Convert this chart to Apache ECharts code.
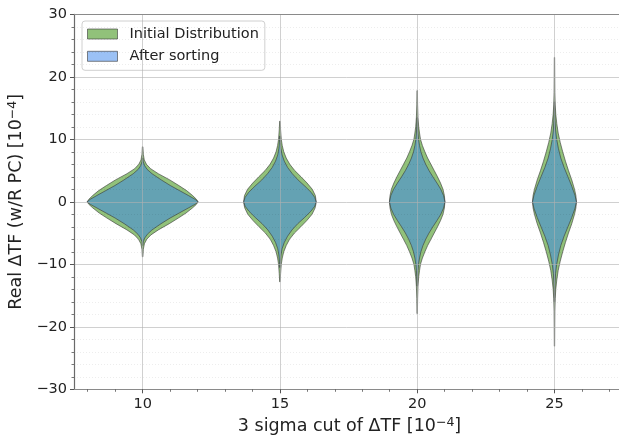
<!DOCTYPE html>
<html>
<head>
<meta charset="utf-8">
<script src="https://cdn.jsdelivr.net/npm/echarts@6/dist/echarts.min.js"></script>
<style>
  html, body { margin: 0; padding: 0; background: #ffffff; }
  #main { width: 619px; height: 435px; }
</style>
</head>
<body>
<div id="main"></div>
<script>
// Cut levels on the x axis (units of 1e-4)
const categories = [10, 15, 20, 25];
const xMinorTicks = [8, 9, 11, 12, 13, 14, 16, 17, 18, 19, 21, 22, 23, 24, 26, 27];
const seriesNames = ['Initial Distribution', 'After sorting'];

// Violin outlines: [value, half-width] pairs, top to bottom
const initial10 = [[8.8,0.01],[7.6,0.025],[6.7,0.06],[6.0,0.14],[5.3,0.29],[4.5,0.57],[3.5,0.99],[2.6,1.32],[1.8,1.60],[1.0,1.82],[0.4,1.96],[0,2.02],[-0.4,1.96],[-1.0,1.81],[-1.8,1.58],[-2.6,1.30],[-3.5,0.97],[-4.5,0.57],[-5.3,0.30],[-6.0,0.15],[-6.7,0.065],[-7.6,0.025],[-8.8,0.01]];
const sorted10 = [[7.0,0.008],[6.4,0.025],[5.8,0.07],[5.2,0.16],[4.5,0.34],[3.5,0.68],[2.6,1.01],[1.8,1.34],[1.0,1.67],[0.4,1.91],[0,2.02],[-0.4,1.91],[-1.0,1.66],[-1.8,1.33],[-2.6,1.00],[-3.5,0.67],[-4.5,0.34],[-5.2,0.17],[-5.8,0.075],[-6.4,0.025],[-7.0,0.008]];

const initial15 = [[12.9,0.008],[11.5,0.025],[10.0,0.05],[9.0,0.085],[8.0,0.14],[7.0,0.23],[6.0,0.36],[5.0,0.54],[4.0,0.77],[3.0,0.99],[2.0,1.18],[1.0,1.29],[0.4,1.31],[0,1.32],[-0.4,1.31],[-1.0,1.28],[-2.0,1.17],[-3.0,0.98],[-4.0,0.76],[-5.0,0.53],[-6.0,0.35],[-7.0,0.23],[-8.0,0.14],[-9.0,0.085],[-10.0,0.05],[-11.5,0.025],[-12.8,0.008]];
const sorted15 = [[10.5,0.008],[9.5,0.018],[8.5,0.04],[7.5,0.08],[6.5,0.16],[5.5,0.28],[4.5,0.45],[3.5,0.66],[2.5,0.91],[1.5,1.14],[0.7,1.27],[0,1.32],[-0.7,1.27],[-1.5,1.13],[-2.5,0.90],[-3.5,0.65],[-4.5,0.44],[-5.5,0.28],[-6.5,0.16],[-7.5,0.08],[-8.5,0.04],[-9.5,0.018],[-10.5,0.008]];

const initial20 = [[17.8,0.008],[15.5,0.015],[13.5,0.03],[12.0,0.055],[11.0,0.085],[10.0,0.12],[9.0,0.19],[8.0,0.28],[7.0,0.38],[6.0,0.50],[5.0,0.62],[4.0,0.74],[3.0,0.85],[2.0,0.94],[1.0,0.99],[0,1.01],[-1.0,0.99],[-2.0,0.94],[-3.0,0.85],[-4.0,0.74],[-5.0,0.62],[-6.0,0.50],[-7.0,0.38],[-8.0,0.28],[-9.0,0.19],[-10.0,0.12],[-11.0,0.085],[-12.0,0.055],[-13.5,0.03],[-15.5,0.015],[-17.9,0.008]];
const sorted20 = [[13.5,0.006],[12.0,0.018],[11.0,0.03],[10.0,0.05],[9.0,0.085],[8.0,0.135],[7.0,0.21],[6.0,0.31],[5.0,0.43],[4.0,0.57],[3.0,0.72],[2.0,0.86],[1.0,0.96],[0,1.01],[-1.0,0.96],[-2.0,0.86],[-3.0,0.72],[-4.0,0.57],[-5.0,0.43],[-6.0,0.31],[-7.0,0.21],[-8.0,0.135],[-9.0,0.085],[-10.0,0.05],[-11.0,0.03],[-12.0,0.018],[-13.5,0.006]];

const initial25 = [[23.1,0.006],[20.0,0.01],[17.5,0.015],[15.5,0.027],[14.0,0.048],[12.5,0.085],[11.0,0.135],[9.5,0.21],[8.0,0.30],[6.5,0.40],[5.0,0.51],[3.5,0.63],[2.0,0.73],[1.0,0.78],[0,0.80],[-1.0,0.78],[-2.0,0.73],[-3.5,0.63],[-5.0,0.51],[-6.5,0.40],[-8.0,0.30],[-9.5,0.21],[-11.0,0.135],[-12.5,0.085],[-14.0,0.048],[-15.5,0.027],[-17.5,0.015],[-20.0,0.01],[-23.1,0.006]];
const sorted25 = [[16.0,0.005],[14.5,0.011],[13.0,0.022],[11.5,0.04],[10.0,0.08],[8.5,0.145],[7.0,0.23],[5.5,0.35],[4.0,0.49],[2.5,0.63],[1.0,0.75],[0,0.80],[-1.0,0.75],[-2.5,0.63],[-4.0,0.49],[-5.5,0.35],[-7.0,0.23],[-8.5,0.145],[-10.0,0.08],[-11.5,0.04],[-13.0,0.022],[-14.5,0.011],[-16.0,0.005]];

const initialProfiles = [initial10, initial15, initial20, initial25];
const sortedProfiles = [sorted10, sorted15, sorted20, sorted25];

// Visible x range: the frame is cut at the right edge of the canvas
const xMin = 7.5;
const xMax = 27.35;

const FONT = 'DejaVu Sans';
const greenFill = 'rgb(145,193,122)';
const blueFill = 'rgba(55,132,236,0.5)';
const edge = 'rgba(55,55,55,0.6)';
const gridColor = 'rgba(176,176,176,0.6)';
const spineColor = '#8a8a8a';

function violinSeries(name, profiles, fill, z) {
  return {
    type: 'custom',
    name: name,
    z: z,
    coordinateSystem: 'cartesian2d',
    xAxisIndex: 0,
    yAxisIndex: 0,
    itemStyle: { color: fill, borderColor: edge, borderWidth: 1 },
    data: categories.map(function (c) { return [c, 0]; }),
    encode: { x: 0, y: 1 },
    renderItem: function (params, api) {
      const c = api.value(0);
      const prof = profiles[params.dataIndex];
      const right = prof.map(function (p) { return api.coord([c + p[1], p[0]]); });
      const left = prof.slice().reverse().map(function (p) { return api.coord([c - p[1], p[0]]); });
      return {
        type: 'polygon',
        shape: { points: right.concat(left) },
        style: { fill: fill, stroke: edge, lineWidth: 1, lineJoin: 'round' }
      };
    }
  };
}

const minus = function (v) { return String(v).replace('-', '\u2212'); };

const chart = echarts.init(document.getElementById('main'), null, { renderer: 'canvas' });
chart.setOption({
  animation: false,
  backgroundColor: '#ffffff',
  textStyle: { fontFamily: FONT },
  grid: {
    left: 74, right: 0, top: 14.3, bottom: 45.7,
    containLabel: false, outerBoundsMode: 'none',
    show: false
  },
  legend: {
    orient: 'vertical',
    left: 82, top: 21,
    icon: 'rect',
    itemWidth: 30, itemHeight: 10, itemGap: 6.3,
    padding: [5, 6, 6, 5],
    borderColor: '#d0d0d0', borderWidth: 1, borderRadius: 3,
    backgroundColor: 'rgba(255,255,255,0.8)',
    textStyle: { fontFamily: FONT, fontSize: 14.5, color: '#222', lineHeight: 16, padding: [0, 0, 0, 7] },
    data: [
      { name: seriesNames[0], itemStyle: { color: greenFill, borderColor: edge, borderWidth: 1 } },
      { name: seriesNames[1], itemStyle: { color: blueFill, borderColor: edge, borderWidth: 1 } }
    ]
  },
  xAxis: [
    {
      type: 'value', min: xMin, max: xMax, position: 'bottom', z: 5,
      name: '3 sigma cut of \u0394TF [10{sup|\u22124}]',
      nameLocation: 'middle', nameGap: 27,
      nameTextStyle: {
        fontFamily: FONT, fontSize: 17.5, color: '#222', padding: [0, 0, 0, 6],
        rich: { sup: { fontFamily: FONT, fontSize: 12.5, color: '#222', verticalAlign: 'top', lineHeight: 20 } }
      },
      axisLine: { show: true, onZero: false, lineStyle: { color: spineColor, width: 1.2 } },
      axisTick: { show: true, customValues: categories, length: 4, lineStyle: { color: '#555', width: 1 } },
      axisLabel: { customValues: categories, fontFamily: FONT, fontSize: 14.5, color: '#222', margin: 7 },
      splitLine: { show: false }
    },
    {
      // minor ticks every 1 unit
      type: 'value', min: xMin, max: xMax, position: 'bottom', z: 5,
      axisLine: { show: false, onZero: false },
      axisTick: { show: true, customValues: xMinorTicks, length: 2.5, lineStyle: { color: '#555', width: 0.8 } },
      axisLabel: { show: false, customValues: xMinorTicks },
      splitLine: { show: false }
    },
    {
      // top spine of the frame, plus the vertical grid lines at each cut level
      type: 'value', min: xMin, max: xMax, position: 'top', z: 5,
      axisLine: { show: true, onZero: false, lineStyle: { color: spineColor, width: 1.2 } },
      axisTick: { show: false, customValues: [xMin].concat(categories, [xMax]) },
      axisLabel: { show: false },
      splitLine: { show: true, showMinLine: false, showMaxLine: false, lineStyle: { color: gridColor, width: 1 } }
    }
  ],
  yAxis: {
    type: 'value', min: -30, max: 30, interval: 10, z: 5,
    name: 'Real \u0394TF (w/R PC) [10{sup|\u22124}]',
    nameLocation: 'middle', nameGap: 41,
    nameTextStyle: {
      fontFamily: FONT, fontSize: 17.5, color: '#222',
      rich: { sup: { fontFamily: FONT, fontSize: 12.5, color: '#222', verticalAlign: 'top', lineHeight: 20 } }
    },
    axisLine: { show: true, onZero: false, lineStyle: { color: '#6a6a6a', width: 1.2 } },
    axisTick: { show: true, length: 4, lineStyle: { color: '#555', width: 1 } },
    minorTick: { show: true, splitNumber: 5, length: 2.5, lineStyle: { color: '#555', width: 0.8 } },
    axisLabel: { fontFamily: FONT, fontSize: 14.5, color: '#222', margin: 7, formatter: minus },
    splitLine: { show: true, lineStyle: { color: gridColor, width: 1 } },
    minorSplitLine: { show: true, lineStyle: { color: 'rgba(0,0,0,0.07)', width: 1, type: [1, 2] } }
  },
  series: [
    violinSeries(seriesNames[0], initialProfiles, greenFill, 1),
    violinSeries(seriesNames[1], sortedProfiles, blueFill, 2)
  ]
});
</script>
</body>
</html>
